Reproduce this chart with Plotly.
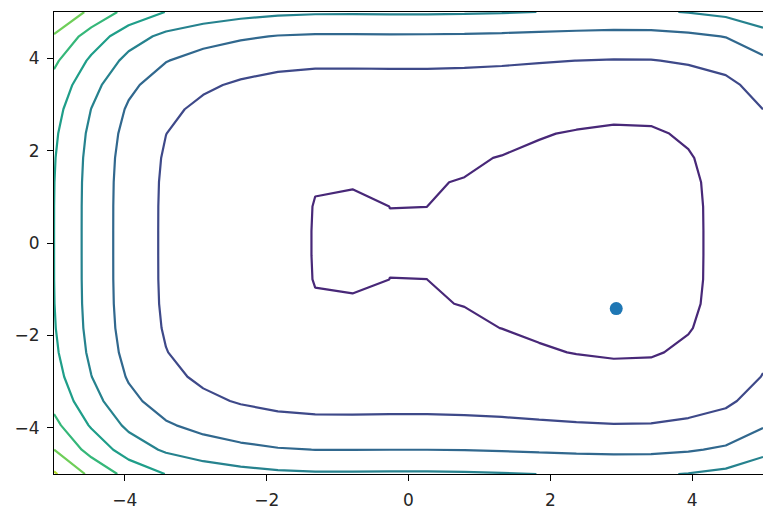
import numpy as np
import plotly.graph_objects as go

# Sampling grid (20 x 20) of the surface
grid_x = [-5.0, -4.474, -3.947, -3.421, -2.895, -2.368, -1.842, -1.316, -0.789, -0.263,
          0.263, 0.789, 1.316, 1.842, 2.368, 2.895, 3.421, 3.947, 4.474, 5.0]
grid_y = [-5.0, -4.474, -3.947, -3.421, -2.895, -2.368, -1.842, -1.316, -0.789, -0.263,
          0.263, 0.789, 1.316, 1.842, 2.368, 2.895, 3.421, 3.947, 4.474, 5.0]

# Surface height along x (one value per grid column)
col_profile = [5.003, 3.65, 2.543, 1.858, 1.47, 1.22, 1.06, 0.9933, 0.9898, 0.99833,
               0.99822, 0.978, 0.9363, 0.8756, 0.821, 0.7824, 0.793, 0.912, 1.13, 1.665]
# Surface height added along y (one value per grid row)
row_profile = [3.12, 2.00, 1.251, 0.709, 0.366, 0.1653, 0.0614, 0.0164, 0.0018, 0.00002,
               0.00002, 0.0018, 0.0137, 0.0539, 0.149, 0.337, 0.661, 1.177, 1.90, 3.12]
# height at the top-left grid corner (x=-5, y=5)
top_left_corner = 7.98

# Contour levels 0..9 (levels 1..8 fall inside the surface range)
level_start, level_end, level_step = 0, 9, 1

# Marked point
point_x = [2.93]
point_y = [-1.42]

z = np.add.outer(np.array(row_profile), np.array(col_profile))
z[-1, 0] = top_left_corner

fig = go.Figure()
fig.add_trace(go.Contour(
    x=grid_x, y=grid_y, z=z,
    autocontour=False,
    contours=dict(start=level_start, end=level_end, size=level_step,
                  coloring="lines", showlabels=False),
    colorscale="Viridis",
    showscale=False,
    line=dict(width=2.2, smoothing=0),
    hoverinfo="skip",
))
fig.add_trace(go.Scatter(
    x=point_x, y=point_y, mode="markers",
    marker=dict(color="#1f77b4", size=13, line=dict(width=0)),
    hoverinfo="skip",
))

axis_common = dict(
    range=[-5, 5],
    tickvals=[-4, -2, 0, 2, 4],
    showgrid=False, zeroline=False,
    showline=True, linecolor="black", linewidth=1.1,
    ticks="outside", ticklen=6, tickwidth=1.1, tickcolor="black",
    tickfont=dict(family="DejaVu Sans", size=17, color="#262626"),
)

fig.update_layout(
    width=763, height=510,
    margin=dict(l=54, r=0, t=12, b=33),
    paper_bgcolor="white", plot_bgcolor="white",
    showlegend=False,
    xaxis=dict(**axis_common, mirror=True, ticklabelstandoff=5),
    yaxis=dict(**axis_common, mirror=False, ticklabelstandoff=4),
)

fig.write_html("out.html")
